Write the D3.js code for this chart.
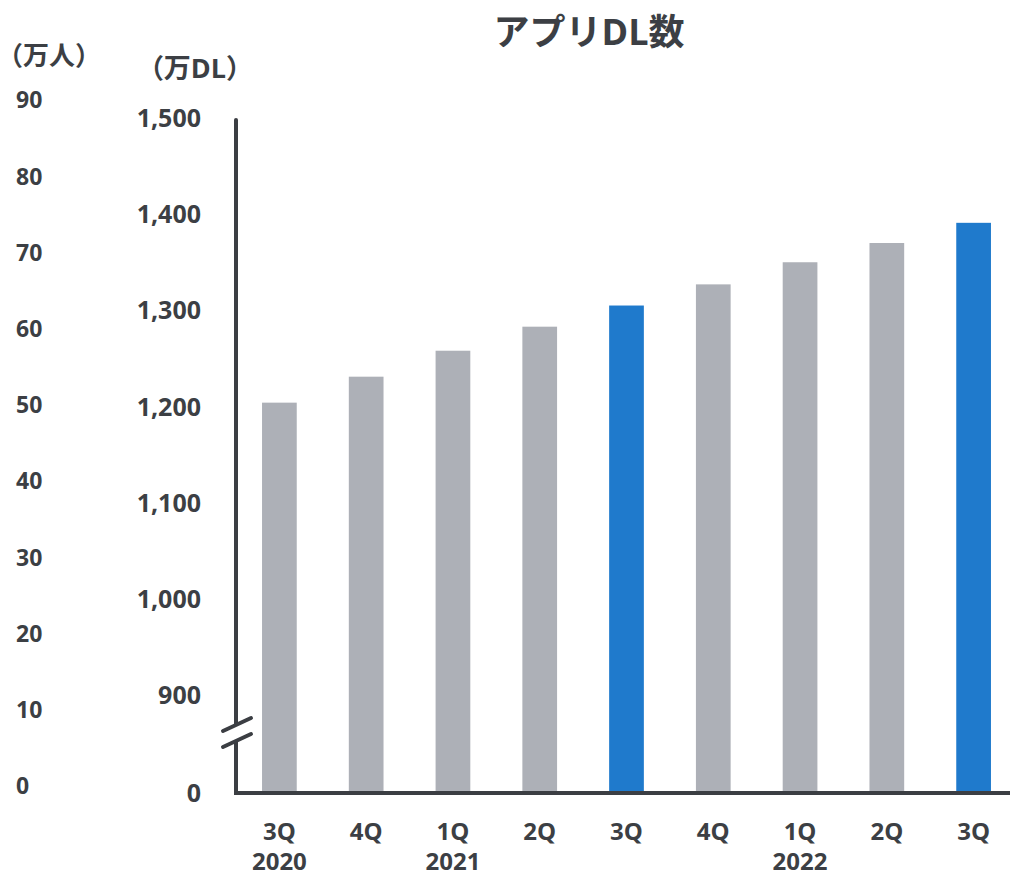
<!DOCTYPE html>
<html>
<head>
<meta charset="utf-8">
<script src="https://cdn.jsdelivr.net/npm/d3@7"></script>
<style>
  body { margin: 0; background: #fff; }
  text { font-family: "Open Sans", "Noto Sans CJK JP", sans-serif; font-weight: bold; fill: #3c3f44; }
</style>
</head>
<body>
<div id="chart"></div>
<script>
// data
var quarters = ["3Q", "4Q", "1Q", "2Q", "3Q", "4Q", "1Q", "2Q", "3Q"];
var years = ["2020", "", "2021", "", "", "", "2022", "", ""];
var downloads = [1204, 1231, 1258, 1283, 1305, 1327, 1350, 1370, 1391];
var highlight = [false, false, false, false, true, false, false, false, true];
var dlTicks = [0, 900, 1000, 1100, 1200, 1300, 1400, 1500];
var userTicks = [0, 10, 20, 30, 40, 50, 60, 70, 80, 90];

var W = 1010, H = 874;
var axisColor = "#3b3e43";

var svg = d3.select("#chart").append("svg")
  .attr("width", W)
  .attr("height", H);

// x scale
var x = d3.scaleBand()
  .domain(d3.range(quarters.length))
  .range([236, 1017])
  .paddingInner(0.6)
  .paddingOuter(0.3);

// broken y scale: 0 at the baseline, then 900..1500
var y = d3.scaleLinear()
  .domain([0, 900, 1500])
  .range([793, 695, 118]);

// left scale (万人)
var yUser = d3.scaleLinear()
  .domain([0, 90])
  .range([786, 100]);

// title
svg.append("text")
  .attr("x", 589).attr("y", 32)
  .attr("dy", "0.36em")
  .attr("text-anchor", "middle")
  .style("font-size", "36px")
  .text("アプリDL数");

// unit labels
svg.append("text")
  .attr("x", 49).attr("y", 56)
  .attr("dy", "0.36em")
  .attr("text-anchor", "middle")
  .style("font-size", "26px")
  .text("（万人）");
svg.append("text")
  .attr("x", 195).attr("y", 68)
  .attr("dy", "0.36em")
  .attr("text-anchor", "middle")
  .style("font-size", "27px")
  .text("（万DL）");

// bars
svg.selectAll(".bar")
  .data(downloads)
  .enter()
  .append("rect")
    .attr("class", "bar")
    .attr("x", function(d, i) { return x(i); })
    .attr("y", function(d) { return y(d); })
    .attr("width", x.bandwidth())
    .attr("height", function(d) { return y(0) - y(d); })
    .style("fill", function(d, i) { return highlight[i] ? "#1f7acc" : "#adb0b7"; });

// DL axis tick labels
svg.selectAll(".dltick")
  .data(dlTicks)
  .enter()
  .append("text")
    .attr("class", "dltick")
    .attr("x", 201)
    .attr("y", function(d) { return y(d); })
    .attr("dy", "0.36em")
    .attr("text-anchor", "end")
    .style("font-size", "25px")
    .text(function(d) { return d3.format(",")(d); });

// user axis tick labels
svg.selectAll(".usertick")
  .data(userTicks)
  .enter()
  .append("text")
    .attr("class", "usertick")
    .attr("x", 16)
    .attr("y", function(d) { return yUser(d); })
    .attr("dy", "0.36em")
    .style("font-size", "23px")
    .text(function(d) { return d; });

// axis lines with break marks
var axis = svg.append("g")
  .style("stroke", axisColor)
  .style("stroke-width", 4)
  .style("fill", "none")
  .style("stroke-linecap", "round");

axis.append("line")
  .attr("x1", 236).attr("y1", 120)
  .attr("x2", 236).attr("y2", 724);
axis.append("path")
  .style("stroke-linecap", "butt")
  .attr("d", "M236,742 V" + y(0) + " H1010");
axis.append("line")
  .attr("x1", 223).attr("y1", 731)
  .attr("x2", 251).attr("y2", 718);
axis.append("line")
  .attr("x1", 223).attr("y1", 747)
  .attr("x2", 251).attr("y2", 734);

// x labels
svg.selectAll(".qlabel")
  .data(quarters)
  .enter()
  .append("text")
    .attr("class", "qlabel")
    .attr("x", function(d, i) { return x(i) + x.bandwidth() / 2; })
    .attr("y", 831)
    .attr("dy", "0.36em")
    .attr("text-anchor", "middle")
    .style("font-size", "24px")
    .text(function(d) { return d; });

svg.selectAll(".ylabel")
  .data(years)
  .enter()
  .append("text")
    .attr("class", "ylabel")
    .attr("x", function(d, i) { return x(i) + x.bandwidth() / 2; })
    .attr("y", 861)
    .attr("dy", "0.36em")
    .attr("text-anchor", "middle")
    .style("font-size", "24px")
    .text(function(d) { return d; });
</script>
</body>
</html>
